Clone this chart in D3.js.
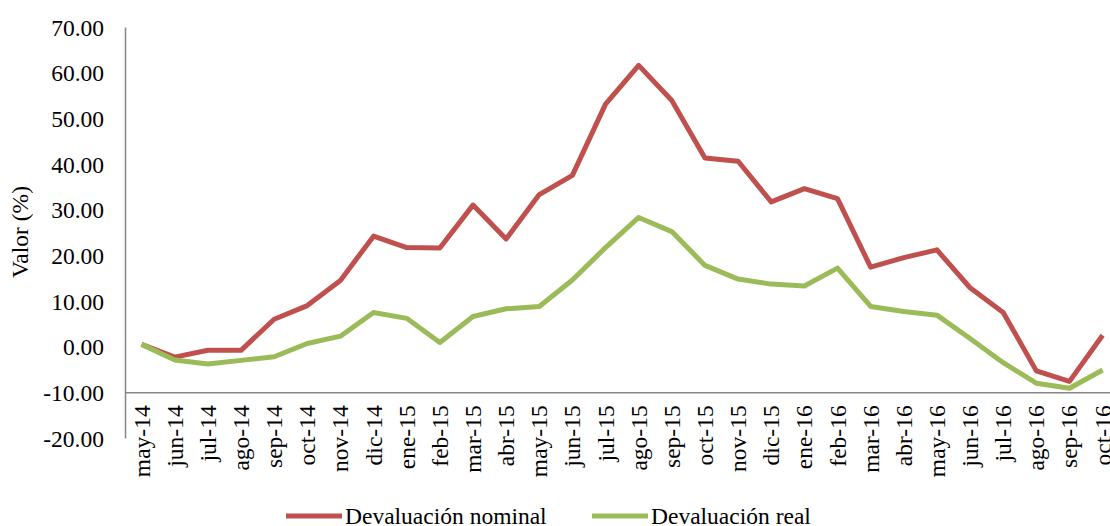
<!DOCTYPE html>
<html lang="es">
<head>
<meta charset="UTF-8">
<script src="https://cdn.jsdelivr.net/npm/d3@7"></script>
<style>
  body { margin: 0; background: #fff; }
  svg { display: block; font-family: "Liberation Serif", "Times New Roman", serif; }
  .line { fill: none; stroke-width: 5px; stroke-linejoin: round; }
  .axis path { stroke: #868686; stroke-width: 1.5px; }
  .axis text { fill: #000; font-size: 23.5px; font-family: "Liberation Serif", "Times New Roman", serif; }
</style>
</head>
<body>
<script>
  // monthly data, may-14 .. oct-16
  var months = ["may-14","jun-14","jul-14","ago-14","sep-14","oct-14","nov-14","dic-14",
    "ene-15","feb-15","mar-15","abr-15","may-15","jun-15","jul-15","ago-15","sep-15","oct-15",
    "nov-15","dic-15","ene-16","feb-16","mar-16","abr-16","may-16","jun-16","jul-16","ago-16",
    "sep-16","oct-16"];
  var nominal = [0.5,-2.3,-0.8,-0.8,6.0,9.0,14.5,24.2,21.7,21.6,31.0,23.6,33.3,37.5,53.1,61.6,
    53.9,41.3,40.6,31.7,34.6,32.4,17.4,19.5,21.2,12.9,7.5,-5.3,-7.6,2.5];
  var real = [0.5,-2.9,-3.8,-3.0,-2.2,0.7,2.3,7.5,6.2,0.9,6.6,8.3,8.8,14.6,21.7,28.3,
    25.2,17.8,14.8,13.7,13.3,17.2,8.8,7.7,6.9,1.8,-3.5,-8.0,-9.1,-5.1];
  var series = [
    {name: "Devaluación nominal", values: nominal, color: "#c0504d"},
    {name: "Devaluación real", values: real, color: "#9bbb59"}
  ];
  var yTicks = [-20,-10,0,10,20,30,40,50,60,70];

  const W = 1110, H = 526;
  const plotLeft = 125, plotTop = 27, plotBottom = 438;
  const band = 33.14;

  const svg = d3.select("body").append("svg")
      .attr("width", W).attr("height", H);

  const x = d3.scaleBand()
      .domain(months)
      .range([plotLeft, plotLeft + band * months.length]);

  const y = d3.scaleLinear()
      .domain([-20, 70])
      .range([plotBottom, plotTop]);

  // y axis
  const yAxis = svg.append("g")
      .attr("class", "axis")
      .attr("transform", `translate(${plotLeft},0)`)
      .call(d3.axisLeft(y).tickValues(yTicks).tickSize(0).tickPadding(21)
        .tickFormat(d => d.toFixed(2)));
  yAxis.selectAll("text").attr("dy", "0.35em");

  // category axis crosses at -10
  const xAxis = svg.append("g")
      .attr("class", "axis")
      .attr("transform", `translate(0,${y(-10)})`)
      .call(d3.axisBottom(x).tickSize(0).tickSizeOuter(0));
  xAxis.selectAll("text")
      .attr("text-anchor", "end")
      .attr("dy", null)
      .attr("y", 0)
      .attr("transform", "translate(0,13) rotate(-90)")
      .attr("dominant-baseline", "central");

  svg.append("text")
      .attr("transform", "translate(20,232) rotate(-90)")
      .attr("text-anchor", "middle")
      .attr("dominant-baseline", "central")
      .style("font-size", "23.5px")
      .text("Valor (%)");

  const line = d3.line()
      .x((d, i) => x(months[i]) + x.bandwidth() / 2)
      .y(d => y(d));

  svg.selectAll("path.line")
      .data(series)
      .join("path")
      .attr("class", "line")
      .attr("stroke", d => d.color)
      .attr("d", d => line(d.values));

  // legend
  const legX = [286, 592];
  const leg = svg.selectAll("g.legend")
      .data(series)
      .join("g")
      .attr("class", "legend")
      .attr("transform", (d, i) => `translate(${legX[i]},516)`);
  leg.append("line")
      .attr("x1", 0).attr("x2", 56)
      .attr("stroke", d => d.color)
      .attr("stroke-width", 5);
  leg.append("text")
      .attr("x", 59)
      .attr("dy", "0.33em")
      .style("font-size", "23.5px")
      .text(d => d.name);
</script>
</body>
</html>
